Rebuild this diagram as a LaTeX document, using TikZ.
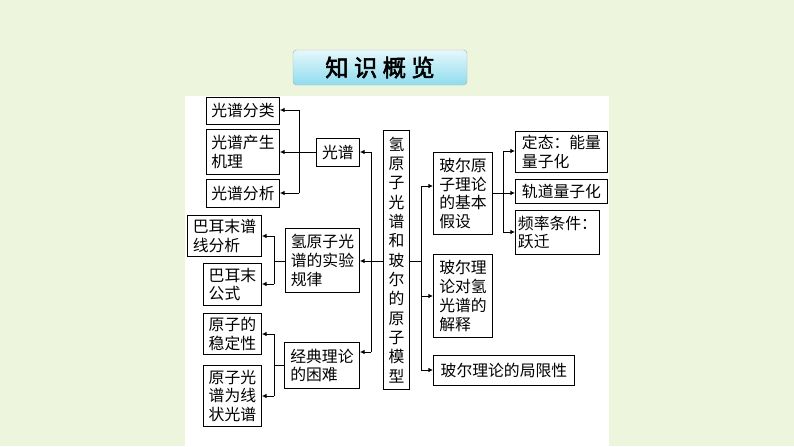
\documentclass[tikz,border=0pt]{standalone}
\usepackage{fontspec}
\setmainfont{Noto Sans CJK SC}
\newfontfamily\titlefont[FakeBold=2.5]{Noto Sans CJK SC}
\usetikzlibrary{arrows.meta}
\definecolor{bgcol}{HTML}{EDF5DD}
\definecolor{titletop}{HTML}{E6F8FC}
\definecolor{titlebot}{HTML}{8FDCEE}
\tikzset{
    box/.style={draw, thick, anchor=north west, align=left, inner sep=1.5pt,
        font=\fontsize{13.5}{16}\selectfont},
    link/.style={thick},
    arr/.style={thick, -{Latex[length=4pt,width=4pt]}}
}
\newcommand{\bx}[6]{% name, x, y, w, h, text
    \node[box, minimum width=#4*0.03cm, minimum height=#5*0.03cm] (#1) at (#2,#3) {#6};}
\begin{document}
\begin{tikzpicture}[x=0.03cm, y=-0.03cm]
    \fill[bgcol] (0,0) rectangle (794,446);
    \fill[white] (185,96) rectangle (609,446);
    \useasboundingbox (0,0) rectangle (794,446);
    %Title
    \shade[top color=titletop, bottom color=titlebot, draw=gray!60, rounded corners=3pt] (293,50) rectangle (467,85);
    \node[font=\titlefont\fontsize{20}{24}\selectfont] (title) at (380,67.5) {知\ 识\ 概\ 览};
    %Left side
    \bx{cls}{206}{97}{73}{27}{光谱分类}
    \bx{mech}{206}{129}{73}{45}{光谱产生\\机理}
    \bx{anal}{206}{179}{73}{28}{光谱分析}
    \bx{spec}{316}{138}{43}{28}{光谱}
    \bx{balA}{187}{215}{74}{41}{巴耳末谱\\线分析}
    \bx{balF}{203}{263}{58}{42}{巴耳末\\公式}
    \bx{rule}{285}{228}{74}{64}{氢原子光\\谱的实验\\规律}
    \bx{stab}{203}{313}{58}{41}{原子的\\稳定性}
    \bx{line}{203}{365}{58}{61}{原子光\\谱为线\\状光谱}
    \bx{diff}{284}{342}{75}{46}{经典理论\\的困难}
    %Center
    \node[box, align=center, minimum width=26*0.03cm, minimum height=259*0.03cm,
        font=\fontsize{13.5}{16.5}\selectfont] (main) at (383,130)
        {氢\\原\\子\\光\\谱\\和\\玻\\尔\\的\\原\\子\\模\\型};
    %Right side
    \bx{post}{433}{152}{59}{82}{玻尔原\\子理论\\的基本\\假设}
    \bx{expl}{433}{254}{59}{83}{玻尔理\\论对氢\\光谱的\\解释}
    \bx{limit}{433}{355}{141}{30}{玻尔理论的局限性}
    \bx{stat}{515}{131}{92}{41}{定态：能量\\量子化}
    \bx{orb}{515}{179}{92}{24}{轨道量子化}
    \bx{freq}{515}{210}{84}{44}{频率条件：\\跃迁}
    %Connectors
    \coordinate (lbus) at (371,261);
    \draw[link] (main.west |- lbus) -- (lbus);
    \draw[link] (371,152) -- (371,352);
    \draw[arr] (371,152) -- (spec.east |- 0,152);
    \draw[arr] (lbus) -- (rule.east |- lbus);
    \draw[arr] (371,352) -- (diff.east |- 0,352);
    \draw[link] (spec.west |- 0,152) -- (299,152);
    \draw[link] (299,110) -- (299,193);
    \draw[arr] (299,110) -- (cls.east |- 0,110);
    \draw[arr] (299,152) -- (mech.east |- 0,152);
    \draw[arr] (299,193) -- (anal.east |- 0,193);
    \draw[link] (rule.west |- lbus) -- (274,261);
    \draw[link] (274,236) -- (274,284);
    \draw[arr] (274,236) -- (balA.east |- 0,236);
    \draw[arr] (274,284) -- (balF.east |- 0,284);
    \draw[link] (diff.west |- 0,365) -- (274,365);
    \draw[link] (274,334) -- (274,396);
    \draw[arr] (274,334) -- (stab.east |- 0,334);
    \draw[arr] (274,396) -- (line.east |- 0,396);
    \draw[link] (main.east |- lbus) -- (421,261);
    \draw[link] (421,186) -- (421,370);
    \draw[arr] (421,186) -- (post.west |- 0,186);
    \draw[arr] (421,296) -- (expl.west |- 0,296);
    \draw[arr] (421,370) -- (limit.west |- 0,370);
    \draw[link] (post.east |- 0,193) -- (503,193);
    \draw[link] (503,151) -- (503,232);
    \draw[arr] (503,151) -- (stat.west |- 0,151);
    \draw[arr] (503,193) -- (orb.west |- 0,193);
    \draw[arr] (503,232) -- (freq.west |- 0,232);
\end{tikzpicture}
\end{document}
